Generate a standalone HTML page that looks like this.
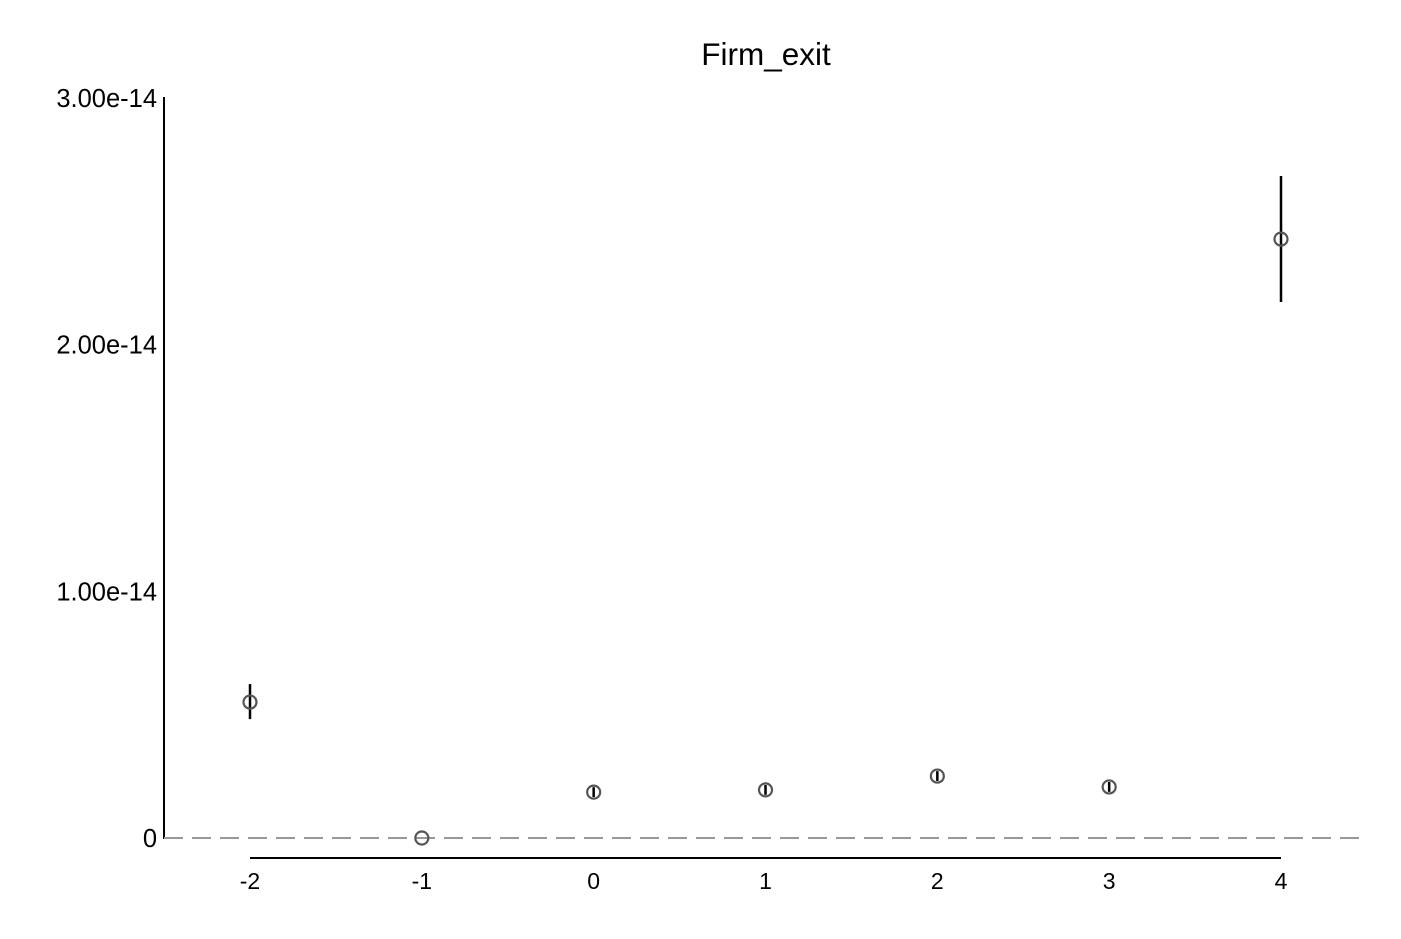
<!DOCTYPE html>
<html><head><meta charset="utf-8"><style>
html,body{margin:0;padding:0;background:#fff}
svg text{font-family:"Liberation Sans",Arial,sans-serif;fill:#000}
</style></head><body>
<svg id="chart" width="1401" height="934" xmlns="http://www.w3.org/2000/svg">
<text x="766" y="65" font-size="31.5" text-anchor="middle">Firm_exit</text>
<line x1="164" y1="97" x2="164" y2="839" stroke="#000" stroke-width="2"/>
<line x1="250" y1="858" x2="1281" y2="858" stroke="#000" stroke-width="2"/>
<line x1="164" y1="838" x2="1362" y2="838" stroke="#999" stroke-width="2" stroke-dasharray="19,9"/>
<g id="yticks"></g><g id="xticks"></g><g id="marks"></g>
</svg>
<script>
const categories = [-2, -1, 0, 1, 2, 3, 4];
const estimates = [0.551e-14, 0.0, 0.186e-14, 0.195e-14, 0.251e-14, 0.207e-14, 2.428e-14];
const ciLow = [0.482e-14, 0.0, 0.166e-14, 0.175e-14, 0.231e-14, 0.187e-14, 2.173e-14];
const ciHigh = [0.624e-14, 0.0, 0.206e-14, 0.215e-14, 0.271e-14, 0.227e-14, 2.684e-14];
const yTicks = [0, 1e-14, 2e-14, 3e-14];
const yTickLabels = ["0", "1.00e-14", "2.00e-14", "3.00e-14"];
const ns = "http://www.w3.org/2000/svg";
const xScale = v => 250 + (v - (-2)) * (1281 - 250) / 6;
const yScale = v => 838 - v * (838 - 98) / 3e-14;
function mk(tag, attrs, parent){const e=document.createElementNS(ns,tag);for(const k in attrs)e.setAttribute(k,attrs[k]);parent.appendChild(e);return e;}
const yt=document.getElementById('yticks');
yTicks.forEach((t,i)=>{
  const tx=mk('text',{x:157,y:yScale(t)+9,'font-size':25.5,'text-anchor':'end'},yt);
  
  
  tx.textContent=yTickLabels[i];
});
const xt=document.getElementById('xticks');
categories.forEach(c=>{
  const tx=mk('text',{x:xScale(c),y:889,'font-size':23,'text-anchor':'middle'},xt);
  
  
  tx.textContent=String(c);
});
const mg=document.getElementById('marks');
categories.forEach((c,i)=>{
  const l=mk('line',{x1:xScale(c),x2:xScale(c),y1:yScale(ciLow[i]),y2:yScale(ciHigh[i]),stroke:'#000','stroke-width':2.5},mg);
  
  
  const p=mk('circle',{cx:xScale(c),cy:yScale(estimates[i]),r:6.5,fill:'none',stroke:'#555','stroke-width':2.2},mg);
  
  
});
</script>
</body></html>
